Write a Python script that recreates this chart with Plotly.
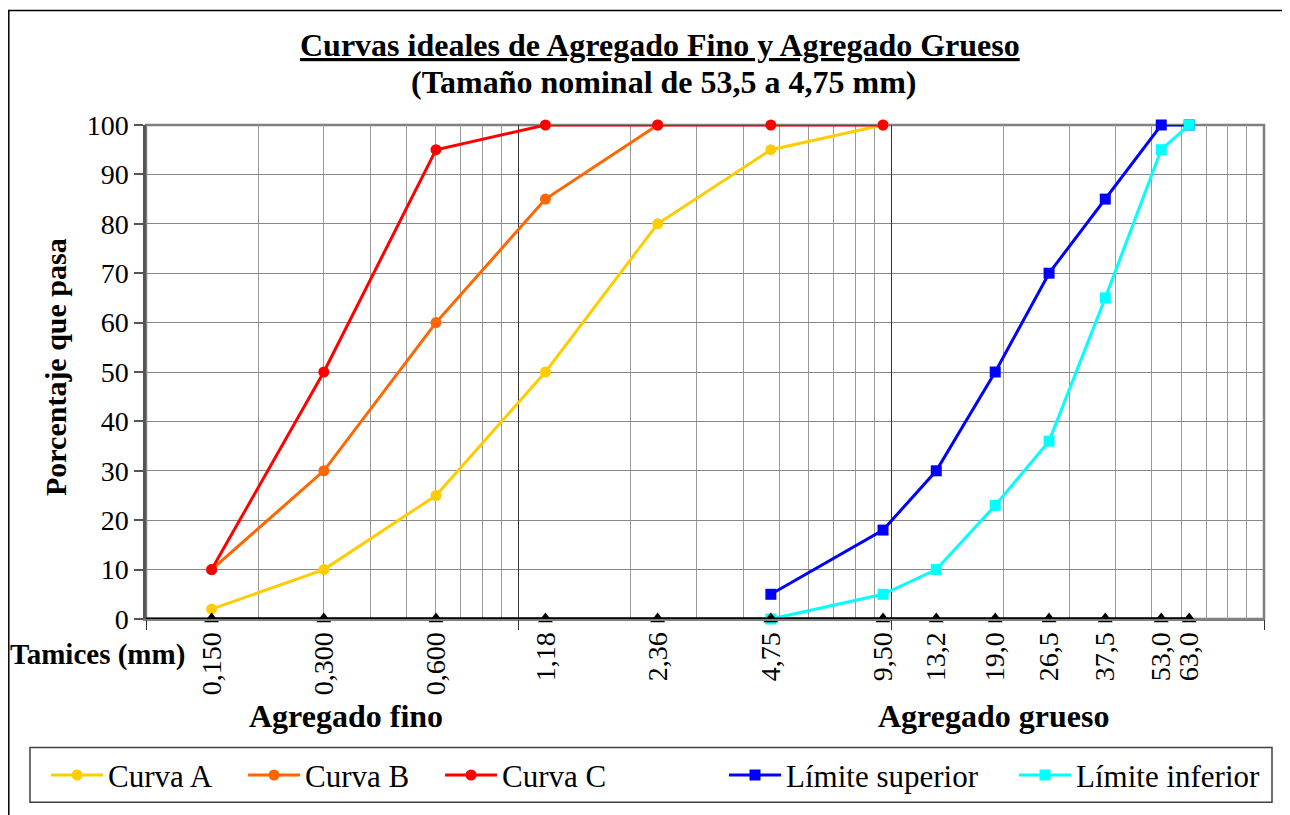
import plotly.graph_objects as go

# ---- data ----
sieves = [0.15, 0.3, 0.6, 1.18, 2.36, 4.75, 9.5, 13.2, 19.0, 26.5, 37.5, 53.0, 63.0]
sieve_labels = ["0,150", "0,300", "0,600", "1,18", "2,36", "4,75", "9,50",
                "13,2", "19,0", "26,5", "37,5", "53,0", "63,0"]

fine_x = [0.15, 0.3, 0.6, 1.18, 2.36, 4.75, 9.5]
curva_a = [2, 10, 25, 50, 80, 95, 100]
curva_b_x = [0.15, 0.3, 0.6, 1.18, 2.36]
curva_b = [10, 30, 60, 85, 100]
curva_c = [10, 50, 95, 100, 100, 100, 100]

coarse_x = [4.75, 9.5, 13.2, 19.0, 26.5, 37.5, 53.0, 63.0]
lim_sup = [5, 18, 30, 50, 70, 85, 100, 100]
lim_inf = [0, 5, 10, 23, 36, 65, 95, 100]

y_ticks = list(range(0, 101, 10))

FONT = "Times New Roman, Liberation Serif, serif"

# minor grid positions for log axis
minor_vals = [m * 10 ** e for e in (-1, 0, 1) for m in range(2, 10)]
decades = [0.1, 1, 10, 100]

fig = go.Figure()

fig.add_trace(go.Scatter(x=fine_x, y=curva_a, name="Curva A", mode="lines+markers",
                         line=dict(color="#FFCC00", width=3),
                         marker=dict(symbol="circle", size=11, color="#FFCC00"),
                         cliponaxis=False, legend="legend"))
fig.add_trace(go.Scatter(x=curva_b_x, y=curva_b, name="Curva B", mode="lines+markers",
                         line=dict(color="#FF6600", width=3),
                         marker=dict(symbol="circle", size=11, color="#FF6600"),
                         cliponaxis=False, legend="legend"))
fig.add_trace(go.Scatter(x=fine_x, y=curva_c, name="Curva C", mode="lines+markers",
                         line=dict(color="#FF0000", width=3),
                         marker=dict(symbol="circle", size=11, color="#FF0000"),
                         cliponaxis=False, legend="legend"))
fig.add_trace(go.Scatter(x=coarse_x, y=lim_sup, name="Límite superior", mode="lines+markers",
                         line=dict(color="#0000FF", width=3),
                         marker=dict(symbol="square", size=11, color="#0000FF"),
                         cliponaxis=False, legend="legend2"))
fig.add_trace(go.Scatter(x=coarse_x, y=lim_inf, name="Límite inferior", mode="lines+markers",
                         line=dict(color="#00FFFF", width=3),
                         marker=dict(symbol="square", size=11, color="#00FFFF"),
                         cliponaxis=False, legend="legend3"))
fig.add_trace(go.Scatter(x=sieves, y=[0] * len(sieves), name="Tamices", mode="lines+markers",
                         line=dict(color="black", width=3),
                         marker=dict(symbol="triangle-up", size=13, color="black"),
                         cliponaxis=False, showlegend=False, xaxis="x2"))

axis_range = [-1, 2]

leg_common = dict(orientation="h", y=-0.3165, xanchor="left", yanchor="middle",
                  bgcolor="rgba(0,0,0,0)", borderwidth=0, itemwidth=52,
                  font=dict(size=31, family=FONT))

fig.update_layout(
    width=1282, height=807,
    margin=dict(l=138, r=26, t=117, b=194),
    paper_bgcolor="white", plot_bgcolor="white",
    font=dict(family=FONT, color="black", size=28),
    xaxis=dict(type="log", range=axis_range, tickmode="array", tickvals=sieves,
               ticktext=sieve_labels, tickangle=-90, ticks="", showgrid=False,
               tickfont=dict(size=28), showline=True, linecolor="#808080", linewidth=2,
               zeroline=False,
               minor=dict(tickmode="array", tickvals=minor_vals, showgrid=True,
                          gridcolor="#9a9a9a", gridwidth=1, ticks="")),
    xaxis2=dict(type="log", range=axis_range, overlaying="x", anchor="y", side="bottom",
                tickmode="array", tickvals=decades, showticklabels=False,
                ticks="outside", ticklen=10, tickcolor="#333333", tickwidth=1,
                showgrid=True, gridcolor="#333333", gridwidth=1, showline=False,
                zeroline=False),
    yaxis=dict(range=[0, 100], tickmode="array", tickvals=y_ticks,
               ticks="outside", ticklen=9, tickcolor="#555555", tickwidth=1.5,
               showline=True, linecolor="#555555", linewidth=2.5,
               showgrid=True, gridcolor="#888888", gridwidth=1, zeroline=False,
               tickfont=dict(size=28)),
    legend=dict(x=-0.0894, entrywidth=130, entrywidthmode="pixels", **leg_common),
    legend2=dict(x=0.5170, **leg_common),
    legend3=dict(x=0.7764, **leg_common),
    showlegend=True,
)

# plot-area border
fig.add_shape(type="rect", xref="paper", yref="paper", x0=0, y0=0, x1=1, y1=1,
              line=dict(color="#808080", width=2.5), layer="between")
# black baseline from the axis start to the last sieve
fig.add_shape(type="line", xref="x", yref="y", x0=10 ** axis_range[0], x1=max(sieves),
              y0=0, y1=0, line=dict(color="black", width=3), layer="between")


def px_x(px):
    return (px - 146) / 1118


def px_y(py):
    return (621 - py) / 496


# outer chart border
fig.add_shape(type="rect", xref="paper", yref="paper",
              x0=px_x(8.8), x1=px_x(1287), y0=px_y(830), y1=px_y(10),
              line=dict(color="black", width=1.5))
# legend box
fig.add_shape(type="rect", xref="paper", yref="paper",
              x0=px_x(30), x1=px_x(1272), y0=px_y(805), y1=px_y(750),
              line=dict(color="#404040", width=1.5))

ann = [
    dict(text="<b><u>Curvas ideales de Agregado Fino y Agregado Grueso</u></b>",
         x=px_x(660), y=px_y(45), font=dict(size=32)),
    dict(text="<b>(Tamaño nominal de 53,5 a 4,75 mm)</b>",
         x=px_x(664), y=px_y(82), font=dict(size=32)),
    dict(text="<b>Tamices (mm)</b>", x=px_x(187), y=px_y(657), xanchor="right",
         font=dict(size=29)),
    dict(text="<b>Agregado fino</b>", x=px_x(346), y=px_y(718), font=dict(size=32)),
    dict(text="<b>Agregado grueso</b>", x=px_x(993), y=px_y(718), font=dict(size=32)),
    dict(text="<b>Porcentaje que pasa</b>", x=px_x(55), y=px_y(368), textangle=-90,
         font=dict(size=30)),
]
for a in ann:
    a.setdefault("xanchor", "center")
    a.update(xref="paper", yref="paper", yanchor="middle", showarrow=False)
    a["font"] = dict(family=FONT, color="black", **a["font"])
    fig.add_annotation(**a)

fig.write_html("out.html")
